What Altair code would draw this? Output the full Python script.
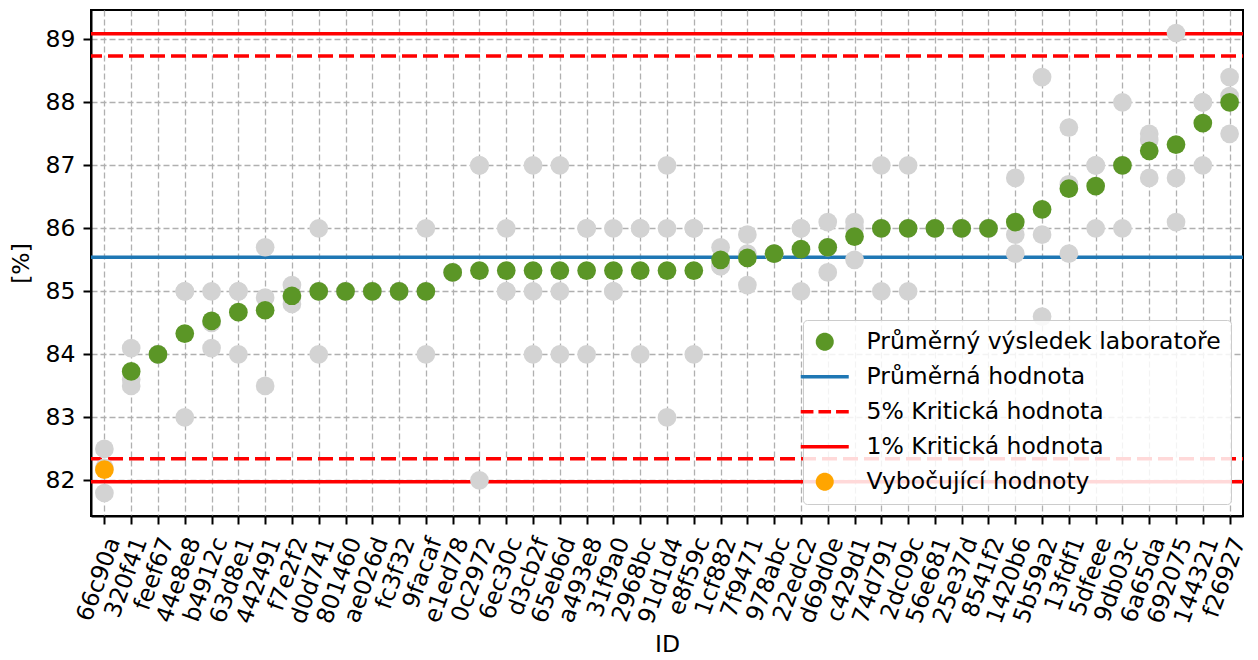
import math
import altair as alt
import pandas as pd

ids = ["66c90a", "320f41", "feef67", "44e8e8", "b4912c", "63d8e1", "442491", "f7e2f2",
       "d0d741", "801460", "ae026d", "fc3f32", "9facaf", "e1ed78", "0c2972", "6ec30c",
       "d3cb2f", "65eb6d", "a493e8", "31f9a0", "2968bc", "91d1d4", "e8f59c", "1cf882",
       "7f9471", "978abc", "22edc2", "d69d0e", "c429d1", "74d791", "2dc09c", "56e681",
       "25e37d", "8541f2", "1420b6", "5b59a2", "13fdf1", "5dfeee", "9db03c", "6a65da",
       "692075", "144321", "f26927"]

results = [
    [82.5, 82.2, 81.8], [84.1, 83.6, 83.5], [84.0, 84.0, 84.0], [85.0, 85.0, 83.0],
    [85.0, 84.5, 84.1], [85.0, 85.0, 84.0], [85.7, 84.9, 83.5], [85.1, 84.9, 84.8],
    [86.0, 85.0, 84.0], [85.0, 85.0, 85.0], [85.0, 85.0, 85.0], [85.0, 85.0, 85.0],
    [86.0, 85.0, 84.0], [85.3, 85.3, 85.3], [87.0, 87.0, 82.0], [86.0, 85.0, 85.0],
    [87.0, 85.0, 84.0], [87.0, 85.0, 84.0], [86.0, 86.0, 84.0], [86.0, 85.0, 85.0],
    [86.0, 86.0, 84.0], [87.0, 86.0, 83.0], [86.0, 86.0, 84.0], [85.7, 85.4, 85.4],
    [85.9, 85.6, 85.1], [85.6, 85.6, 85.6], [86.0, 86.0, 85.0], [86.1, 85.7, 85.3],
    [86.1, 86.0, 85.5], [87.0, 86.0, 85.0], [87.0, 86.0, 85.0], [86.0, 86.0, 86.0],
    [86.0, 86.0, 86.0], [86.0, 86.0, 86.0], [86.8, 85.9, 85.6], [88.4, 85.9, 84.6],
    [87.6, 86.7, 85.6], [87.0, 87.0, 86.0], [88.0, 87.0, 86.0], [87.5, 87.4, 86.8],
    [89.1, 86.8, 86.1], [88.0, 88.0, 87.0], [88.4, 88.1, 87.5],
]

lab_means = [82.17, 83.73, 84.0, 84.33, 84.53, 84.67, 84.70, 84.93, 85.0, 85.0, 85.0,
             85.0, 85.0, 85.3, 85.33, 85.33, 85.33, 85.33, 85.33, 85.33, 85.33, 85.33,
             85.33, 85.5, 85.53, 85.6, 85.67, 85.7, 85.87, 86.0, 86.0, 86.0, 86.0, 86.0,
             86.1, 86.3, 86.63, 86.67, 87.0, 87.23, 87.33, 87.67, 88.0]

outlier_ids = ["66c90a"]

mean_value = 85.54
crit5 = [82.345, 88.735]
crit1 = [81.98, 89.09]

y_ticks = [82, 83, 84, 85, 86, 87, 88, 89]

legend_labels = ["Průměrný výsledek laboratoře", "Průměrná hodnota",
                 "5% Kritická hodnota", "1% Kritická hodnota", "Vybočující hodnoty"]

GREEN = "#5b9626"
ORANGE = "#ffa500"
BLUE = "#1f77b4"
RED = "#ff0000"
GREY = "#d3d3d3"
legend_colors = [GREEN, BLUE, RED, RED, ORANGE]

# legend symbol shapes, drawn as filled areas (unit = 10 px with symbolSize 400)
R = 0.9
pts = [(R * math.cos(2 * math.pi * k / 40), R * math.sin(2 * math.pi * k / 40)) for k in range(40)]
circle_path = "M" + "L".join(f"{x:.3f},{y:.3f}" for x, y in pts) + "Z"
H = 0.175


def seg(a, b):
    return f"M{a},{-H}L{b},{-H}L{b},{H}L{a},{H}Z"


line_path = seg(-2.4, 2.4)
dash_path = seg(-2.4, -1.13) + seg(-0.63, 0.63) + seg(1.13, 2.4)
legend_shapes = [circle_path, line_path, dash_path, line_path, circle_path]

# tables
rows = []
for i, vals in zip(ids, results):
    for v in vals:
        rows.append({"ID": i, "value": v})
df_results = pd.DataFrame(rows)

df_means = pd.DataFrame({"ID": ids, "value": lab_means})
df_means["outlier"] = df_means["ID"].isin(outlier_ids)
df_normal = df_means[~df_means["outlier"]]
df_out = df_means[df_means["outlier"]]

df_mean_line = pd.DataFrame({"value": [mean_value]})
df_c5 = pd.DataFrame({"value": crit5})
df_c1 = pd.DataFrame({"value": crit1})
df_legend = pd.DataFrame({"series": legend_labels})

FONT = "DejaVu Sans"
FS = 23.5

x_enc = alt.X("ID:N", sort=ids,
              scale=alt.Scale(type="point", padding=0.5, domain=ids),
              axis=alt.Axis(title="ID", labelAngle=290, labelAlign="right",
                            labelBaseline="middle", labelOffset=9, labelPadding=14,
                            labelOverlap=False, labelBound=False))
y_scale = alt.Scale(domain=[81.435, 89.465], nice=False, zero=False)
y_enc = alt.Y("value:Q", scale=y_scale,
              axis=alt.Axis(title="[%]", values=y_ticks, format="d"))

grey = alt.Chart(df_results).mark_circle(color=GREY, opacity=1, size=350).encode(
    x=x_enc, y=y_enc)

mean_rule = alt.Chart(df_mean_line).mark_rule(color=BLUE, strokeWidth=3.5).encode(
    y=alt.Y("value:Q", scale=y_scale))
c5_rule = alt.Chart(df_c5).mark_rule(color=RED, strokeWidth=3.5, strokeDash=[15, 6],
                                     strokeDashOffset=14).encode(
    y=alt.Y("value:Q", scale=y_scale))
c1_rule = alt.Chart(df_c1).mark_rule(color=RED, strokeWidth=3.5).encode(
    y=alt.Y("value:Q", scale=y_scale))

green = alt.Chart(df_normal).mark_circle(color=GREEN, opacity=1, size=350).encode(
    x=x_enc, y=y_enc)
orange = alt.Chart(df_out).mark_circle(color=ORANGE, opacity=1, size=350).encode(
    x=x_enc, y=y_enc)

leg = alt.Legend(title=None, orient="bottom-right", offset=12, padding=10,
                 symbolSize=400, symbolStrokeWidth=0, symbolOpacity=1,
                 labelFontSize=FS, labelFont=FONT, labelColor="black",
                 labelLimit=800, labelOffset=30, rowPadding=10,
                 fillColor="rgba(255,255,255,0.85)", strokeColor="#cccccc",
                 cornerRadius=4)

legend_layer = alt.Chart(df_legend).mark_point(filled=True, opacity=1, strokeWidth=0).encode(
    fill=alt.Fill("series:N", scale=alt.Scale(domain=legend_labels, range=legend_colors),
                  legend=leg),
    shape=alt.Shape("series:N", scale=alt.Scale(domain=legend_labels, range=legend_shapes),
                    legend=leg),
).transform_filter("false")

chart = alt.layer(mean_rule, c5_rule, c1_rule, grey, green, orange, legend_layer).properties(
    width=1152, height=506,
    autosize=alt.AutoSizeParams(type="none"),
    padding={"left": 83, "top": 2, "right": 7, "bottom": 144},
).configure(font=FONT).configure_view(
    stroke="black", strokeWidth=2
).configure_axis(
    labelFont=FONT, labelFontSize=FS, labelColor="black",
    titleFont=FONT, titleFontSize=FS, titleFontWeight="normal", titleColor="black",
    tickSize=8, tickWidth=2, tickColor="black",
    domainColor="black", domainWidth=2,
    grid=True, gridColor="#b0b0b0", gridDash=[6, 3], gridWidth=1.3,
    labelPadding=8,
).configure_axisY(titlePadding=12).configure_axisX(titlePadding=6)

chart.save("out.html", embed_options={"renderer": "svg", "actions": False})
